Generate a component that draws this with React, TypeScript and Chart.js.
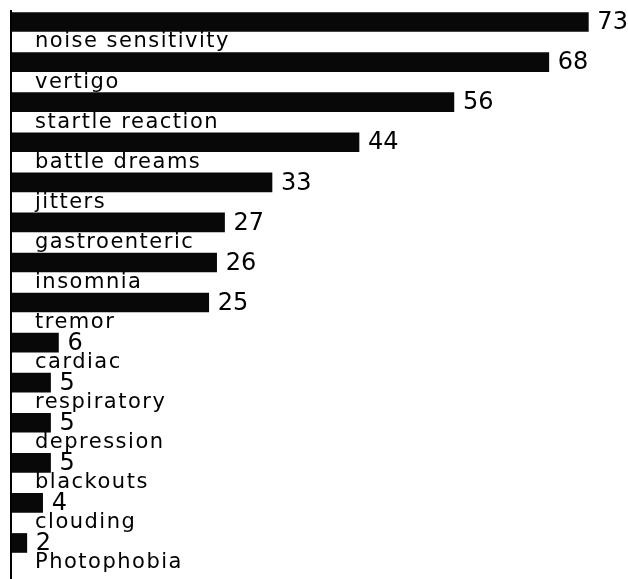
import React, { useEffect, useRef } from "react";
import { Chart, registerables } from "chart.js";

Chart.register(...registerables);

const categories = [
  "noise sensitivity",
  "vertigo",
  "startle reaction",
  "battle dreams",
  "jitters",
  "gastroenteric",
  "insomnia",
  "tremor",
  "cardiac",
  "respiratory",
  "depression",
  "blackouts",
  "clouding",
  "Photophobia",
];
const values = [73, 68, 56, 44, 33, 27, 26, 25, 6, 5, 5, 5, 4, 2];
const valueLabels = ["73", "68", "56", "44", "33", "27", "26", "25", "6", "5", "5", "5", "4", "2"];

const FONT = "'DejaVu Sans', sans-serif";

const labelPlugin = {
  id: "posterLabels",
  afterDatasetsDraw(chart: any) {
    const ctx = chart.ctx;
    const meta = chart.getDatasetMeta(0);
    const area = chart.chartArea;
    ctx.save();
    // axis line
    ctx.strokeStyle = "#000";
    ctx.lineWidth = 2;
    ctx.beginPath();
    ctx.moveTo(area.left, area.top + 8);
    ctx.lineTo(area.left, chart.height);
    ctx.stroke();

    ctx.fillStyle = "#000";
    meta.data.forEach((bar: any, i: number) => {
      // value label
      ctx.font = `24px ${FONT}`;
      ctx.textAlign = "left";
      ctx.textBaseline = "middle";
      (ctx as any).letterSpacing = "0px";
      ctx.fillText(valueLabels[i], bar.x + 9, bar.y + 1);
      // category label below the bar
      ctx.font = `21px ${FONT}`;
      (ctx as any).letterSpacing = "1.5px";
      ctx.fillText(categories[i], area.left + 24, bar.y + 20);
    });
    ctx.restore();
  },
};

export default function App() {
  const ref = useRef<HTMLCanvasElement>(null);
  useEffect(() => {
    if (!ref.current) return;
    const chart = new Chart(ref.current, {
      type: "bar",
      data: {
        labels: categories,
        datasets: [
          {
            data: values,
            backgroundColor: "#080808",
            borderWidth: 0,
            barThickness: 19,
          },
        ],
      },
      options: {
        indexAxis: "y",
        animation: false,
        responsive: false,
        maintainAspectRatio: false,
        layout: { padding: { left: 11, top: 2, bottom: 16, right: 8 } },
        plugins: {
          legend: { display: false },
          tooltip: { enabled: false },
        },
        scales: {
          x: { display: false, min: 0, max: 77 },
          y: { display: false },
        },
      },
      plugins: [labelPlugin],
    });
    return () => chart.destroy();
  }, []);
  return (
    <div style={{ position: "fixed", left: 0, top: 0, width: 628, height: 579, background: "#fff" }}>
      <canvas ref={ref} width={628} height={579} style={{ width: 628, height: 579 }} />
    </div>
  );
}
